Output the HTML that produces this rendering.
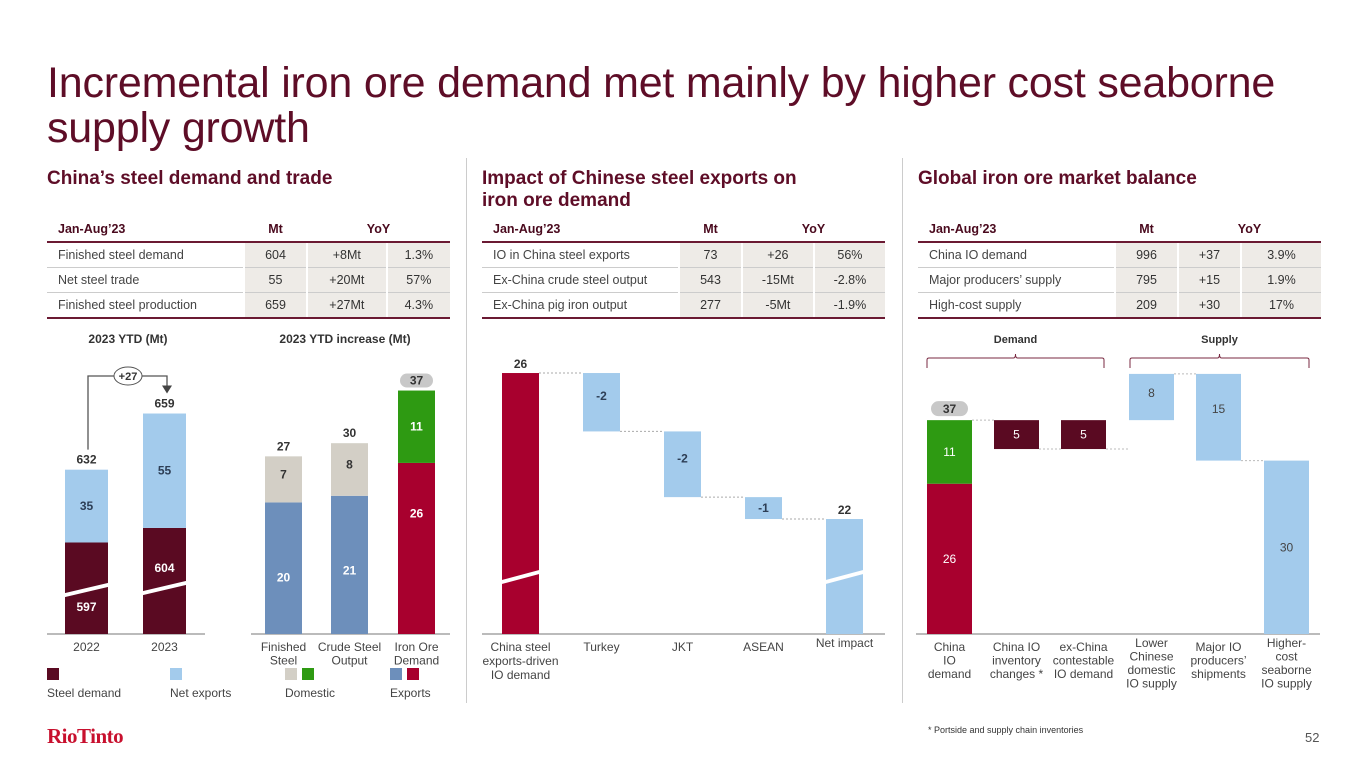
<!DOCTYPE html>
<html><head><meta charset="utf-8"><style>
body{margin:0;width:1365px;height:768px;position:relative;background:#fff;font-family:"Liberation Sans",Arial,sans-serif;overflow:hidden}
.abs{position:absolute}
h1{position:absolute;left:47px;top:61px;margin:0;font-size:43px;font-weight:normal;line-height:45px;color:#5e0d27;letter-spacing:-0.2px;width:1260px}
.sec{position:absolute;top:168px;font-size:19px;font-weight:bold;color:#5e0d27;line-height:22px}
table{position:absolute;top:216px;border-collapse:collapse;font-size:12.5px;color:#333}
th{font-weight:bold;color:#4a0a1e;height:25px;padding:0;text-align:center;border-bottom:2px solid #6b1a33}
th.l{text-align:left;padding-left:11px}
td{height:24px;padding:0;border-bottom:1px solid #ccc;text-align:center}
td.l{text-align:left;padding-left:11px;color:#444}
td.s{background:#eeebe7;border-left:2px solid #fff}
tr.last td{border-bottom:2px solid #6b1a33}
.div{position:absolute;top:158px;width:1px;height:545px;background:#ccc}
</style></head><body>
<h1>Incremental iron ore demand met mainly by higher cost seaborne supply growth</h1>
<div class="sec" style="left:47px">China’s steel demand and trade</div>
<div class="sec" style="left:482px">Impact of Chinese steel exports on<br>iron ore demand</div>
<div class="sec" style="left:918px">Global iron ore market balance</div>
<div class="div" style="left:466px"></div>
<div class="div" style="left:902px"></div>

<table style="left:47px;width:403px">
<tr><th class="l" style="width:186px">Jan-Aug’23</th><th style="width:63px">Mt</th><th colspan="2">YoY</th></tr>
<tr><td class="l">Finished steel demand</td><td class="s">604</td><td class="s">+8Mt</td><td class="s">1.3%</td></tr>
<tr><td class="l">Net steel trade</td><td class="s">55</td><td class="s">+20Mt</td><td class="s">57%</td></tr>
<tr class="last"><td class="l">Finished steel production</td><td class="s">659</td><td class="s">+27Mt</td><td class="s">4.3%</td></tr>
</table>
<table style="left:482px;width:403px">
<tr><th class="l" style="width:186px">Jan-Aug’23</th><th style="width:63px">Mt</th><th colspan="2">YoY</th></tr>
<tr><td class="l">IO in China steel exports</td><td class="s">73</td><td class="s">+26</td><td class="s">56%</td></tr>
<tr><td class="l">Ex-China crude steel output</td><td class="s">543</td><td class="s">-15Mt</td><td class="s">-2.8%</td></tr>
<tr class="last"><td class="l">Ex-China pig iron output</td><td class="s">277</td><td class="s">-5Mt</td><td class="s">-1.9%</td></tr>
</table>
<table style="left:918px;width:403px">
<tr><th class="l" style="width:186px">Jan-Aug’23</th><th style="width:63px">Mt</th><th colspan="2">YoY</th></tr>
<tr><td class="l">China IO demand</td><td class="s">996</td><td class="s">+37</td><td class="s">3.9%</td></tr>
<tr><td class="l">Major producers’ supply</td><td class="s">795</td><td class="s">+15</td><td class="s">1.9%</td></tr>
<tr class="last"><td class="l">High-cost supply</td><td class="s">209</td><td class="s">+30</td><td class="s">17%</td></tr>
</table>

<svg id="ch" class="abs" style="left:0;top:0" width="1365" height="768" font-family="Liberation Sans, Arial, sans-serif"></svg>

<div class="abs" style="left:47px;top:724px;font-family:'Liberation Serif',serif;font-size:21px;color:#c8102e;font-weight:bold;letter-spacing:-0.5px">RioTinto</div>
<div class="abs" style="left:928px;top:725px;font-size:9px;color:#333">* Portside and supply chain inventories</div>
<div class="abs" style="left:1305px;top:730px;font-size:13px;color:#555">52</div>

<script>
// Chart 1: 2023 YTD
const c1Cats=["2022","2023"];
const c1Demand=[597,604];
const c1Exports=[35,55];
const c1Totals=[632,659];
// Chart 2: YTD increase
const c2Cats=[["Finished","Steel"],["Crude Steel","Output"],["Iron Ore","Demand"]];
const c2Lower=[20,21,26];
const c2Upper=[7,8,11];
const c2Totals=[27,30,37];
// Chart 3: Chinese steel exports impact
const c3Cats=[["China steel","exports-driven","IO demand"],["Turkey"],["JKT"],["ASEAN"],["Net impact"]];
const c3Values=[26,-1.6,-1.8,-0.6,22];
const c3Labels=["26","-2","-2","-1","22"];
// Chart 4: market balance
const c4Cats=[["China","IO","demand"],["China IO","inventory","changes *"],["ex-China","contestable","IO demand"],["Lower","Chinese","domestic","IO supply"],["Major IO","producers’","shipments"],["Higher-","cost","seaborne","IO supply"]];
const c4From=[0,37,37,37,45,30];
const c4To=[37,32,32,45,30,0];
const c4Labels=["","5","5","8","15","30"];
const c4Split=[26,11];

const svg=document.getElementById('ch');const NS="http://www.w3.org/2000/svg";
function el(t,a,txt){const e=document.createElementNS(NS,t);for(const k in a)e.setAttribute(k,a[k]);if(txt!=null)e.textContent=txt;svg.appendChild(e);return e;}
const C={dem:"#5a0a22",exp:"#a3cbec",gray:"#d3cfc6",green:"#2e9a12",blue:"#6d8fbb",red:"#a8002e"};
const BASE=634;
function txt(x,y,s,o){o=o||{};const e=el('text',{x:x,y:y,'text-anchor':'middle','font-size':o.fs||12,'font-weight':o.b?'bold':'normal',fill:o.c||'#333'},s);return e;}
function multi(x,y,lines,lh){lines.forEach((l,i)=>{const t=txt(x,y+i*lh,l,{c:'#444'});});}
function brk(x,w,y){const p=el('polygon',{points:`${x-4},${y+4} ${x+w+4},${y-8} ${x+w+4},${y-4} ${x-4},${y+8}`,fill:'#fff'});}

// ---- Chart 1
let t=txt(128,343,"2023 YTD  (Mt)",{b:1,fs:12});
el('line',{x1:47,y1:BASE,x2:205,y2:BASE,stroke:'#777','stroke-width':1});
const y1=v=>2.08*v; const c1x=[65,143], bw1=43, brkBase=553;
c1Cats.forEach((c,i)=>{const x=c1x[i];
 const hd=y1(c1Demand[i]-brkBase), he=y1(c1Exports[i]);
 let r=el('rect',{x:x,y:BASE-hd,width:bw1,height:hd,fill:C.dem});
 r=el('rect',{x:x,y:BASE-hd-he,width:bw1,height:he,fill:C.exp});
 txt(x+bw1/2,BASE-hd-he/2+4,String(c1Exports[i]),{b:1,c:'#2d3e55'});
 txt(x+bw1/2,BASE-hd-he-6,String(c1Totals[i]),{b:1});
 if(i==0){brk(x,bw1,590);txt(x+bw1/2,611,String(c1Demand[i]),{b:1,c:'#fff'});}
 else{txt(x+bw1/2,572,String(c1Demand[i]),{b:1,c:'#fff'});brk(x,bw1,588);}
 const l=txt(x+bw1/2,651,c,{c:'#444'});
});
{const yT=BASE-y1(c1Demand[0]-brkBase)-y1(c1Exports[0]);const yT2=BASE-y1(c1Demand[1]-brkBase)-y1(c1Exports[1]);
 const p=el('path',{d:`M88 ${yT-20} V376 H167 V${yT2-26}`,fill:'none',stroke:'#555','stroke-width':1.3});
 el('polygon',{points:`162,${yT2-28} 172,${yT2-28} 167,${yT2-20}`,fill:'#444'});
 const e=el('ellipse',{cx:128,cy:376,rx:14,ry:9,fill:'#fff',stroke:'#555'});
 txt(128,380,"+27",{b:1,fs:11});}

// ---- Chart 2
t=txt(345,343,"2023 YTD increase (Mt)",{b:1});
el('line',{x1:251,y1:BASE,x2:450,y2:BASE,stroke:'#777'});
const y2=v=>6.58*v, c2x=[265,331,398], bw2=37;
c2Cats.forEach((c,i)=>{const x=c2x[i],hl=y2(c2Lower[i]),hu=y2(c2Upper[i]);
 const lc=i==2?C.red:C.blue, uc=i==2?C.green:C.gray;
 let r=el('rect',{x:x,y:BASE-hl,width:bw2,height:hl,fill:lc});
 r=el('rect',{x:x,y:BASE-hl-hu,width:bw2,height:hu,fill:uc});
 txt(x+bw2/2,BASE-hl*(i==0?0.4:i==1?0.43:0.68),String(c2Lower[i]),{b:1,c:'#fff'});
 txt(x+bw2/2,BASE-hl-hu/2+(i==2?4:-1),String(c2Upper[i]),{b:1,c:i==2?'#fff':'#333'});
 const top=BASE-hl-hu;
 if(i==2){const p=el('rect',{x:x+2,y:top-17,width:bw2-4,height:14,rx:7,fill:'#c8c8c8'});txt(x+bw2/2,top-6,String(c2Totals[i]),{b:1});}
 else txt(x+bw2/2,top-6,String(c2Totals[i]),{b:1});
 multi(x+bw2/2,651,c,13.5);
});
// legend
[[47,C.dem],[170,C.exp],[285,C.gray],[302,C.green],[390,C.blue],[407,C.red]].forEach((s,i)=>{const r=el('rect',{x:s[0],y:668,width:12,height:12,fill:s[1]});});
[[47,"Steel demand"],[170,"Net  exports"],[285,"Domestic"],[390,"Exports"]].forEach(s=>{const e=el('text',{x:s[0],y:697,'font-size':12,fill:'#444'},s[1]);});

// ---- Chart 3
el('line',{x1:482,y1:BASE,x2:885,y2:BASE,stroke:'#777'});
const s3=36.5, b3=18.85, y3=v=>BASE-(v-b3)*s3, c3x=[502,583,664,745,826], bw3=37;
let run=0;
c3Cats.forEach((c,i)=>{const x=c3x[i];let top,bot,fill;
 if(i==0){run=c3Values[0];top=y3(run);bot=BASE;fill=C.red;}
 else if(i==c3Cats.length-1){top=y3(c3Values[i]);bot=BASE;fill=C.exp;}
 else{top=y3(run);run+=c3Values[i];bot=y3(run);fill=C.exp;}
 const r=el('rect',{x:x,y:top,width:bw3,height:bot-top,fill:fill});
 if(i==0||i==c3Cats.length-1){txt(x+bw3/2,top-5,c3Labels[i],{b:1});brk(x,bw3,577);}
 else txt(x+bw3/2,(top+bot)/2+(i==3?4:-2),c3Labels[i],{b:1,c:'#2d3e55'});
 if(i<c3Cats.length-1){const ny=(i==0)?top:bot;el('line',{x1:x+bw3,y1:ny,x2:c3x[i+1],y2:ny,stroke:'#aaa','stroke-dasharray':'2,2'});}
 multi(x+bw3/2,i==4?647:651,c,14);
});

// ---- Chart 4
el('line',{x1:916,y1:BASE,x2:1320,y2:BASE,stroke:'#777'});
const s4=5.78, y4=v=>BASE-v*s4, c4x=[927,994,1061,1129,1196,1264], bw4=45;
c4Cats.forEach((c,i)=>{const x=c4x[i];
 if(i==0){const hr=c4Split[0]*s4,hg=c4Split[1]*s4;
  let r=el('rect',{x:x,y:BASE-hr,width:bw4,height:hr,fill:C.red});
  r=el('rect',{x:x,y:BASE-hr-hg,width:bw4,height:hg,fill:C.green});
  txt(x+bw4/2,BASE-hr/2+4,String(c4Split[0]),{c:'#fff'});txt(x+bw4/2,BASE-hr-hg/2+4,String(c4Split[1]),{c:'#fff'});
  const top=BASE-hr-hg;const p=el('rect',{x:x+4,y:top-19,width:37,height:15,rx:7.5,fill:'#c8c8c8'});
  txt(x+bw4/2,top-7,String(c4To[0]),{b:1});}
 else{const a=y4(c4From[i]),b=y4(c4To[i]),top=Math.min(a,b),h=Math.abs(a-b);
  const dem=i<3;const r=el('rect',{x:x,y:top,width:bw4,height:h,fill:dem?C.dem:C.exp});
  txt(x+bw4/2,top+(i==5?h/2+4:i==4?h*0.45:i==3?h*0.5:h*0.5+4),c4Labels[i],{c:dem?'#fff':'#444'});}
 if(i<c4Cats.length-1){const ny=y4(c4To[i]);el('line',{x1:x+bw4,y1:ny,x2:c4x[i+1],y2:ny,stroke:'#bbb','stroke-dasharray':'2,2'});}
 multi(x+bw4/2,c.length==4?647:651,c,13.5);
});
// brackets
[[927,1104,"Demand"],[1130,1309,"Supply"]].forEach(b=>{const m=(b[0]+b[1])/2;
 const p=el('path',{d:`M${b[0]} 368 V360 Q${b[0]} 358 ${b[0]+2} 358 H${m-2} Q${m} 358 ${m} 354 Q${m} 358 ${m+2} 358 H${b[1]-2} Q${b[1]} 358 ${b[1]} 360 V368`,fill:'none',stroke:'#7a2a42','stroke-width':1});
 txt(m,343,b[2],{b:1,fs:11,c:'#333'});});
</script>
</body></html>
